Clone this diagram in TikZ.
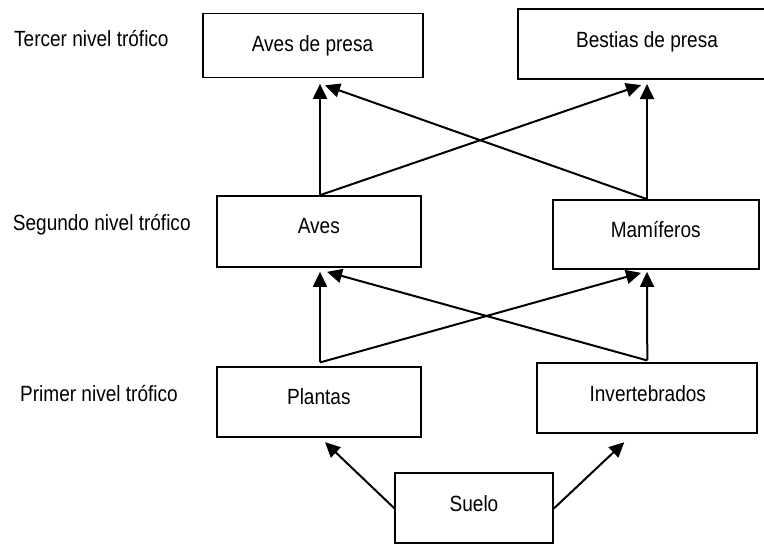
\documentclass[tikz,border=0pt]{standalone}
\usepackage{fontspec}
\setmainfont{Liberation Sans}[FakeStretch=0.865]
\usetikzlibrary{arrows.meta}
\begin{document}
\begin{tikzpicture}[x=1pt,y=-1pt,
  box/.style={draw, line width=1.7pt, inner sep=0pt},
  txt/.style={anchor=base, inner sep=0pt, font=\fontsize{22}{26}\selectfont},
  lvl/.style={anchor=base west, inner sep=0pt, font=\fontsize{22}{26}\selectfont},
  arr/.style={line width=2pt, -{Triangle[length=15pt,width=14pt]}}]
\useasboundingbox (0,0) rectangle (764,544);
\clip (0,0) rectangle (764,544);
% boxes
\node[box, minimum width=220pt, minimum height=64pt] (avesp) at (313,45.5) {};
\node[box, minimum width=258pt, minimum height=70pt] (bestias) at (647,44.2) {};
\node[box, minimum width=204pt, minimum height=71pt] (aves) at (319,231.5) {};
\node[box, minimum width=206pt, minimum height=69pt] (mam) at (656,234.5) {};
\node[box, minimum width=204pt, minimum height=70pt] (plantas) at (319,402.3) {};
\node[box, minimum width=220pt, minimum height=70pt] (inv) at (647.3,398.3) {};
\node[box, minimum width=158pt, minimum height=70pt] (suelo) at (474.2,508.3) {};
% box texts
\node[txt] (tavesp) at (312.5,51.7) {Aves de presa};
\node[txt] (tbestias) at (647,47.7) {Bestias de presa};
\node[txt] (taves) at (318.8,233.3) {Aves};
\node[txt] (tmam) at (655.7,237.3) {Mamíferos};
\node[txt] (tplantas) at (318.8,404) {Plantas};
\node[txt] (tinv) at (647.8,401.3) {Invertebrados};
\node[txt] (tsuelo) at (474,511.7) {Suelo};
% level labels
\node[lvl] (l3) at (14,46) {Tercer nivel trófico};
\node[lvl] (l2) at (12.7,230.7) {Segundo nivel trófico};
\node[lvl] (l1) at (20,401.7) {Primer nivel trófico};
% arrows level 2 -> 3
\draw[arr] ([xshift=1pt]aves.north) -- ([xshift=7pt,yshift=-5.5pt]avesp.south);
\draw[arr] ([xshift=1pt]aves.north) -- ([xshift=-6pt,yshift=-5pt]bestias.south);
\draw[arr] ([xshift=-9pt]mam.north) -- ([yshift=-4pt]bestias.south);
\draw[arr] ([xshift=-9pt]mam.north) -- ([xshift=12pt,yshift=-7pt]avesp.south);
% arrows level 1 -> 2
\draw[arr] ([xshift=1pt,yshift=4pt]plantas.north) -- ([xshift=1pt,yshift=-4pt]aves.south);
\draw[arr] ([xshift=1pt,yshift=4pt]plantas.north) -- ([xshift=-15pt,yshift=-3pt]mam.south);
\draw[arr] ([yshift=2pt]inv.north) -- ([xshift=-9pt,yshift=-2pt]mam.south);
\draw[arr] ([yshift=2pt]inv.north) -- ([xshift=8pt,yshift=-4pt]aves.south);
% arrows soil -> level 1
\draw[arr] (suelo.west) -- ([xshift=6pt,yshift=-4pt]plantas.south);
\draw[arr] (suelo.east) -- ([xshift=-23pt,yshift=-8pt]inv.south);
\end{tikzpicture}
\end{document}
